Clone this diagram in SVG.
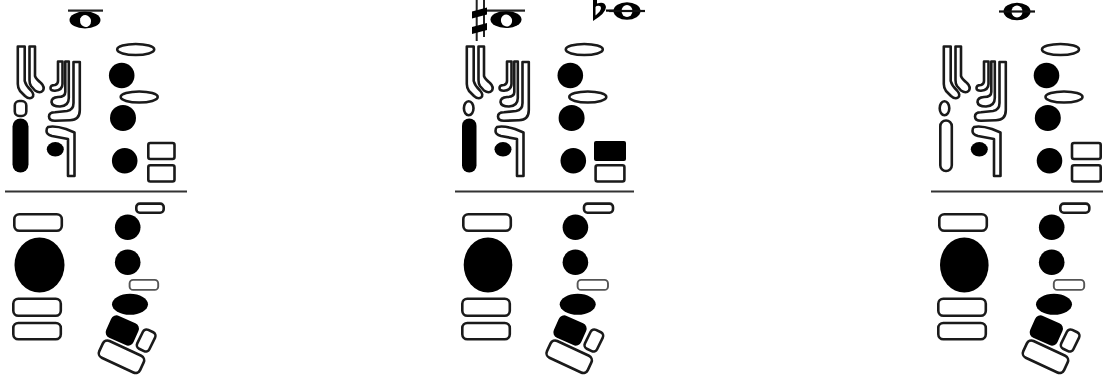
<svg xmlns="http://www.w3.org/2000/svg" width="1103" height="375" viewBox="0 0 1103 375">
<style>
.k{fill:#fff;stroke:#1a1a1a;stroke-width:2.600;stroke-linejoin:round}
.t{fill:#fff;stroke:#555;stroke-width:1.900}
.b{fill:#000}
.w{fill:#fff}
.s{stroke:#333;stroke-width:2.200;fill:none}
</style>
<defs>
<g id="keysUp">
<path class="k" d="M17.800 46.500H24.700V81Q26 86 31 90.500Q35 95 32 97.500Q29 99.500 25 96L20 91Q17.800 88 17.800 84Z"/>
<path class="k" d="M29.500 46.500H35V76Q36 79 41 83Q45 87 43 90.500Q40 94 35 90.500L31 86Q29.500 84 29.500 80Z"/>
<path class="k" d="M58 61.500H62.500V84Q62.500 90 55 90.800Q50.500 91 50.500 88Q50.500 85 55 85Q58 84 58 81Z"/>
<path class="k" d="M65.300 61.500H68.800V98Q68.800 106 60 106.500Q52 106.500 51.500 102Q51.500 97.500 58 97Q65.300 97 65.300 92Z"/>
<path class="k" d="M73.500 62H79.800V110Q79.800 120 70 120.300L55 120.800Q49 120.800 49 116.500Q49 112.300 55 112.300L67 111Q73.500 110 73.500 103Z"/>
<path class="k" d="M48 127Q55 125.500 66 129L74.500 132.500V176H68V139Q60 137.500 52 136Q46.500 134.500 46.500 131Q46.500 128 48 127Z"/>
</g>
<g id="keysLowL">
<rect class="k" x="14.300" y="214.300" width="47.500" height="16.500" rx="5"/>
<rect class="k" x="13.300" y="298.800" width="47.500" height="17" rx="5"/>
<rect class="k" x="13.300" y="323" width="47.500" height="16.200" rx="5"/>
</g>
<g id="keysLowR">
<circle class="b" cx="127.700" cy="227.300" r="12.800"/>
<circle class="b" cx="127.700" cy="262.300" r="12.800"/>
<ellipse class="b" cx="130" cy="304.300" rx="18" ry="10.500"/>
<rect class="b" x="107.300" y="318.500" width="30" height="24" rx="6" transform="rotate(24 122.300 330.500)"/>
<rect class="k" x="139.500" y="330" width="13.500" height="21" rx="4" transform="rotate(26 146.200 340.300)"/>
<rect class="k" x="99" y="347.500" width="45" height="18.500" rx="5" transform="rotate(25 121.500 356.700)"/>
</g>
<g id="ovals">
<ellipse class="k" cx="0" cy="49.500" rx="18.500" ry="5.500"/>
<ellipse class="k" cx="3.500" cy="97" rx="18.500" ry="5.500"/>
<circle class="b" cx="-14" cy="75.500" r="12.800"/>
<circle class="b" cx="-12.700" cy="118" r="13"/>
<circle class="b" cx="-11" cy="160.700" r="12.800"/>
</g>
<g id="head"><ellipse class="b" rx="15.500" ry="8.500"/><ellipse class="w" cx="0.500" cy="1" rx="5.500" ry="6" transform="rotate(-20 0.500 1)"/></g>
<g id="head2"><ellipse class="b" rx="13.500" ry="8.700"/><ellipse class="w" rx="5.500" ry="6"/><rect x="-18" y="-1.100" width="36" height="2.200" fill="#111"/></g>
</defs>

<g id="chart-1">
<g id="note-1"><use href="#head" x="85" y="20"/><rect x="68" y="9.500" width="35" height="2.200" fill="#222"/></g>
<use href="#keysUp"/>
<rect class="k" x="14.800" y="101" width="11.500" height="15" rx="4.500"/>
<rect class="b" x="12.500" y="118.500" width="16" height="54" rx="8"/>
<ellipse class="b" cx="55.300" cy="149.300" rx="8.500" ry="7.300"/>
<use href="#ovals" x="135.700"/>
<rect class="k" x="148.300" y="143" width="26.200" height="16" rx="2"/>
<rect class="k" x="148.300" y="165.300" width="26.200" height="16.200" rx="2"/>
<line class="s" x1="5" y1="191.500" x2="187" y2="191.500"/>
<use href="#keysLowL"/>
<ellipse class="b" cx="39.500" cy="265" rx="25" ry="27.500"/>
<use href="#keysLowR"/>
<rect class="k" x="136.300" y="203.600" width="27.400" height="9.100" rx="3.500"/>
<rect class="t" x="129.600" y="279.900" width="28.600" height="10" rx="3.500"/>
</g>

<g id="chart-2">
<g id="note-2"><use href="#head" x="506" y="19.500"/><rect x="487" y="9.500" width="38" height="2.200" fill="#222"/>
<path d="M476.700 0V41M484 0V37" stroke="#222" stroke-width="2" fill="none"/><path d="M472 11.500L487 7.500V14.500L472 18.500ZM472 27L487 23V30L472 34Z"/></g>
<g id="note-3"><path fill-rule="evenodd" d="M593-1V21Q606 13 606 7Q605 1 597 3.500V-1ZM596.500 6Q601 5 601 8Q601 11 595.500 15.500V7Z"/><rect x="606" y="9.500" width="9" height="2.200"/><use href="#head2" x="627" y="11"/></g>
<use href="#keysUp" x="449"/>
<ellipse class="k" cx="468.700" cy="108.200" rx="4.800" ry="7"/>
<rect class="b" x="462" y="118.500" width="14.500" height="54" rx="7.200"/>
<ellipse class="b" cx="503" cy="149.300" rx="8.500" ry="7.300"/>
<use href="#ovals" x="584.300"/>
<rect class="b" x="594" y="141" width="32" height="20" rx="2"/>
<rect class="k" x="595.600" y="165.300" width="28.800" height="16.200" rx="2"/>
<line class="s" x1="455" y1="191.500" x2="634" y2="191.500"/>
<use href="#keysLowL" x="449"/>
<ellipse class="b" cx="488" cy="265" rx="24.300" ry="27.500"/>
<use href="#keysLowR" x="447.700"/>
<rect class="k" x="584" y="203.600" width="29" height="9.100" rx="3.500"/>
<rect class="t" x="577.600" y="279.900" width="30.400" height="10" rx="3.500"/>
</g>

<g id="chart-3">
<g id="note-4"><use href="#head2" x="1017" y="11.500"/></g>
<use href="#keysUp" x="926"/>
<ellipse class="k" cx="944.500" cy="108.200" rx="4.800" ry="7"/>
<rect class="k" x="940.300" y="120.500" width="11.500" height="50.500" rx="5.700"/>
<ellipse class="b" cx="979.300" cy="149.300" rx="8.500" ry="7.300"/>
<use href="#ovals" x="1060.500"/>
<rect class="k" x="1072" y="143" width="28.700" height="16" rx="2"/>
<rect class="k" x="1072" y="165.300" width="28.700" height="16.200" rx="2"/>
<line class="s" x1="931" y1="191.500" x2="1103" y2="191.500"/>
<use href="#keysLowL" x="925"/>
<ellipse class="b" cx="964.300" cy="265" rx="24.300" ry="27.500"/>
<use href="#keysLowR" x="924"/>
<rect class="k" x="1060.300" y="203.600" width="29" height="9.100" rx="3.500"/>
<rect class="t" x="1053.800" y="279.900" width="30.400" height="10" rx="3.500"/>
</g>
</svg>
